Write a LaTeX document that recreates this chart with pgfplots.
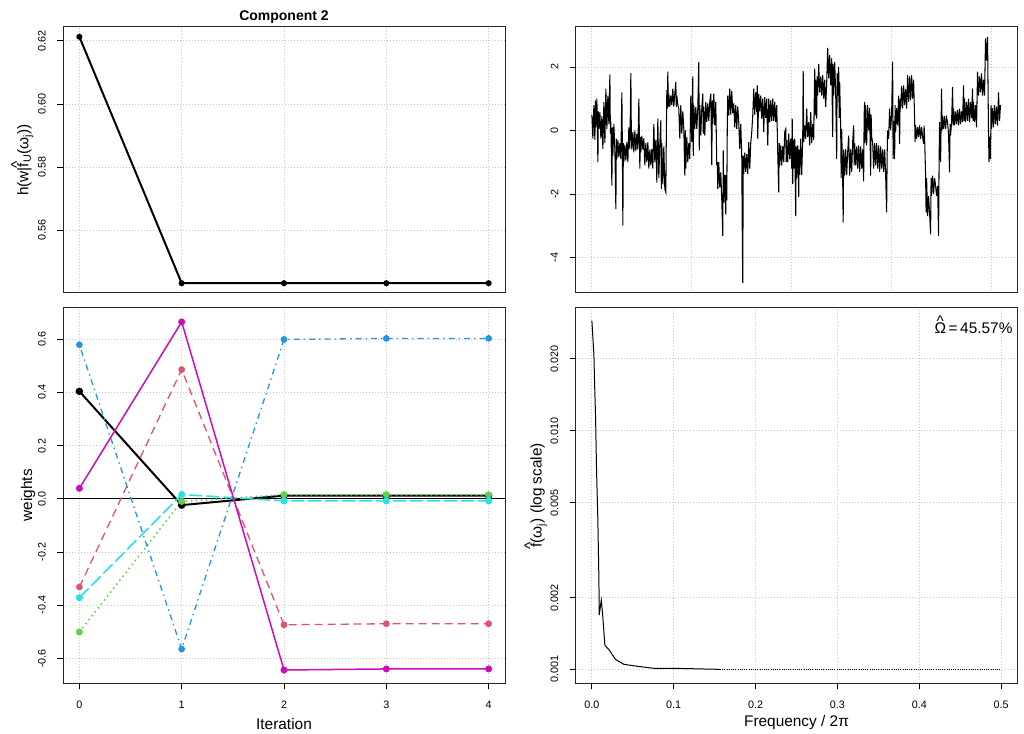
\documentclass[border=0pt]{standalone}
\usepackage{fontspec}
\setmainfont{Liberation Sans}
\usepackage{pgfplots}
\pgfplotsset{compat=1.18}
\definecolor{rred}{HTML}{DF536B}
\definecolor{rgreen}{HTML}{61D04F}
\definecolor{rblue}{HTML}{2297E6}
\definecolor{rcyan}{HTML}{28E2E5}
\definecolor{rmag}{HTML}{CD0BBC}
\newcommand{\rhat}[2][6.5pt]{\setbox0\hbox{#2}\leavevmode\rlap{\hbox to \wd0{\hss\raisebox{#1}{\char"005E}\hss}}\box0}
\begin{document}
\begin{tikzpicture}
\path[use as bounding box] (0pt,0pt) rectangle (1024pt,733pt);
\pgfplotsset{
 rbase/.style={
   scale only axis, anchor=south west, width=442pt,
   axis line style={line width=1pt, black!85},
   tick align=outside, tick pos=left,
   major tick length=6pt,
   every tick/.style={black, line width=0.8pt},
   grid=major,
   major grid style={gray!45, line width=0.8pt, dash pattern=on 1pt off 2pt},
   tick label style={font=\fontsize{10.8}{12}\selectfont},
   yticklabel style={anchor=center, xshift=-15pt, rotate=90},
   xticklabel style={anchor=center, yshift=-15.7pt},
   label style={font=\fontsize{15.4}{18}\selectfont},
 }
}
% ---------- top left ----------
\begin{axis}[rbase, at={(63pt,440pt)}, height=266pt,
  xmin=-0.16, xmax=4.16, ymin=0.5401, ymax=0.6244,
  xtick={0,1,2,3,4}, xmajorticks=false,
  ytick={0.56,0.58,0.60,0.62}, yticklabels={0.56,0.58,0.60,0.62},
  title={Component 2},
  title style={at={(axis description cs:0.5,1)}, anchor=base, yshift=0pt, font=\bfseries\fontsize{14}{16}\selectfont},
  ylabel={h(w|\rhat{f}\textsubscript{U}(ω\textsubscript{j}))},
  ylabel style={at={(axis description cs:-0.092,0.5)}, anchor=center}]
\addplot[black, line width=2pt, mark=*, mark size=2pt] coordinates {(0,0.6213)(1,0.5432)(2,0.5432)(3,0.5432)(4,0.5432)};
\end{axis}
% ---------- top right ----------
\begin{axis}[rbase, at={(575.5pt,440pt)}, height=266pt,
  xmin=-16.4, xmax=426, ymin=-5.12, ymax=3.26,
  xtick={0,100,200,300,400}, xmajorticks=false,
  ytick={-4,-2,0,2}, yticklabels={-4,-2,0,2}]
\addplot[black, line width=1.05pt] coordinates {
(0,0.50)(1,-0.26)(2,0.80)(3,-0.30)(3.5,0.95)(4,0.10)(5,1.00)(6,-1.00)(6.5,0.60)(7,0.05)(8,0.58)(9,-0.26)
(10,0.45)(11,-0.58)(12,0.90)(13,-0.40)(14,1.32)(15,0.05)(16,1.10)(17,0.20)(18,1.77)(18.5,-0.10)(19,0.26)
(20,-1.74)(20.5,0.10)(21,-0.80)(22,0.20)(23,-0.60)(24,-2.48)(24.5,-0.26)(25,-0.90)(26,-0.30)(27,-0.85)(28,-0.40)(29,-0.90)
(30,1.20)(30.5,-0.50)(31,-3.00)(31.5,-0.40)(32,-1.00)(33,-0.45)(34,-0.95)(35,-0.37)(36,-1.00)(37,0.10)(38,-0.58)(39,1.81)(39.5,-0.20)
(40,-0.60)(41,-0.05)(42,-0.69)(43,0.00)(44,-0.65)(45,-0.10)(46,-0.60)(47,1.00)(48,-1.20)(48.5,-0.20)(49,-0.69)
(50,-0.16)(51,-0.60)(52,-0.25)(53,-1.10)(54,-0.40)(55,-1.00)(56,-0.37)(57,-1.20)(58,-0.60)(59,-1.10)
(60,-0.58)(61,-1.20)(62,0.20)(63,-1.00)(64,-0.30)(65,-1.64)(66,0.37)(67,-1.50)(68,-0.40)(69,0.32)(69.5,-1.85)
(70,-0.40)(71,-1.70)(72,-0.50)(73,-1.85)(74,-1.95)(74.5,-0.16)(75,1.27)(75.5,0.69)(76,1.85)(76.5,0.75)(77,1.16)(78,0.74)(79,1.10)
(80,0.80)(81,1.32)(82,0.75)(83,1.16)(84,1.53)(84.5,0.74)(85,1.10)(86,0.80)(87,0.69)(88,-0.26)(89,0.80)
(90,-0.10)(91,0.60)(92,0.05)(93,-1.42)(93.5,0.00)(94,-1.20)(95,-0.20)(96,-1.00)(97,-0.40)(98,-0.90)(99,1.10)
(100,-0.37)(101,1.70)(101.5,-0.80)(102,0.80)(103,0.05)(104,0.74)(105,0.05)(106,0.70)(107,2.16)(107.5,-0.63)(108,0.80)(109,-0.16)
(110,0.70)(111,1.16)(111.5,-0.10)(112,0.75)(113,-0.16)(114,0.90)(115,0.26)(116,0.85)(117,0.30)(118,0.90)(119,1.16)
(120,-1.10)(120.5,0.95)(121,0.20)(122,1.16)(123,0.16)(124,0.90)(125,-1.10)(125.5,-1.00)(126,-1.85)(127,-1.00)(128,-1.80)(129,-1.32)
(130,-2.20)(131,-3.32)(131.5,-0.63)(132,-2.27)(133,-1.40)(134,-2.64)(134.5,-1.40)(135,-2.20)(135.5,0.05)(136,1.10)(137,0.47)(138,1.32)(139,0.50)
(140,1.25)(141,0.55)(142,0.85)(143,0.10)(144,0.80)(145,0.05)(146,0.75)(147,0.26)(148,-0.58)(149,0.20)
(150,-0.80)(150.5,-3.10)(151,-4.80)(151.5,-0.80)(152,-1.37)(153,-0.70)(154,-1.30)(155,-0.75)(156,-1.37)(157,-0.37)(158,-1.20)(159,-0.40)
(160,-0.05)(161,0.47)(162,1.32)(163,0.50)(164,1.20)(165,0.58)(165.5,1.42)(166,-0.26)(167,1.15)(168,0.60)(169,1.10)
(170,0.37)(171,1.00)(172,-0.05)(173,1.05)(174,0.40)(175,1.00)(176,-0.47)(177,1.00)(178,0.26)(179,0.95)
(180,0.30)(181,1.00)(182,0.30)(183,0.90)(184,0.26)(185,0.80)(186,-0.70)(187,-1.95)(187.5,-0.40)(188,-1.10)(189,-0.47)
(190,-1.10)(191,-0.50)(192,-1.00)(193,-0.05)(194,0.05)(194.5,-1.00)(195,-0.30)(196,-1.00)(197,-0.10)(198,-0.90)(199,-0.26)
(200,-1.20)(200.5,0.37)(201,-1.69)(201.5,-0.30)(202,-1.20)(203,-0.26)(204,-2.70)(204.5,-0.50)(205,-1.50)(206,-0.47)(207,-2.10)(207.5,-0.60)(208,-1.40)(209,-0.26)
(210,-1.40)(211,-0.30)(211.5,1.87)(212,-0.37)(213,0.16)(214,-0.26)(215,0.69)(216,-0.20)(217,0.26)(218,-0.47)(219,0.58)
(220,-0.40)(221,0.20)(222,-0.30)(223,1.95)(223.5,0.47)(224,1.60)(225,0.37)(225.5,1.70)(226,1.10)(227,2.10)(228,1.20)(229,1.70)
(230,1.10)(231,1.74)(232,1.00)(233,1.60)(234,0.74)(235,1.50)(236,2.60)(237,1.64)(238,2.37)(239,1.42)
(240,2.27)(241,-0.20)(241.5,2.10)(242,1.10)(243,2.16)(244,1.20)(245,-0.90)(245.5,1.80)(246,1.10)(247,2.00)(247.5,0.40)(248,1.53)(249,0.05)(249.5,-1.50)
(250,0.05)(250.5,-0.70)(251,-1.50)(251.5,-2.90)(252,-0.60)(253,-1.42)(254,-0.58)(255,-1.40)(256,-0.70)(257,-0.16)(258,-1.42)(259,-0.60)
(260,-1.30)(261,-0.37)(262,0.16)(262.5,-1.10)(263,-0.40)(264,-1.10)(265,-0.50)(266,-1.20)(267,-0.47)(268,-1.30)(269,-0.50)
(270,-1.20)(271,-0.60)(272,-1.60)(272.5,0.50)(273,0.90)(273.5,-0.40)(274,0.80)(275,-0.47)(276,0.80)(277,0.00)(278,0.70)(279,-1.42)(279.5,0.50)
(280,-0.20)(281,-0.37)(282,-1.20)(283,-0.40)(284,-1.10)(285,-0.40)(286,-1.20)(287,-0.47)(288,-1.30)(289,-0.50)
(290,-1.20)(291,-0.60)(292,-1.30)(293,-0.60)(294,-1.40)(295,-2.58)(295.5,-0.80)(296,0.00)(297,-0.26)(298,0.69)(299,0.00)
(300,0.50)(301,2.16)(301.5,-0.90)(302,0.30)(303,-0.90)(303.5,0.80)(304,-0.05)(305,0.70)(306,0.16)(307,1.10)(308,-0.42)(308.5,1.00)(309,0.69)
(310,1.40)(311,0.70)(312,1.42)(313,0.80)(314,1.30)(315,0.69)(316,1.74)(317,0.90)(318,1.70)(319,0.95)
(320,1.74)(321,1.00)(322,1.60)(323,0.37)(323.5,-0.37)(324,0.16)(325,-0.26)(326,0.10)(327,-0.20)(328,0.16)(329,-0.26)
(330,0.10)(331,-0.20)(332,-0.42)(332.5,0.15)(333,-0.20)(334,-1.42)(334.5,-2.58)(335,-1.50)(336,-2.70)(337,-2.06)(338,-2.60)(339,-3.27)(339.5,-1.50)
(340,-2.06)(341,-1.42)(342,-2.00)(343,-1.50)(344,-1.74)(345,-2.06)(346,-1.75)(347,-3.32)(347.5,-1.00)(348,0.26)(349,-1.00)
(350,1.32)(350.5,0.00)(351,0.47)(352,0.05)(353,0.45)(354,0.05)(355,0.40)(356,0.26)(357,-0.16)(358,-1.32)(358.5,0.20)(359,-0.16)
(360,0.26)(361,1.37)(361.5,0.16)(362,0.69)(363,0.16)(364,0.60)(365,0.20)(366,0.65)(367,0.16)(368,0.69)(369,0.20)
(370,0.60)(371,0.26)(372,1.42)(372.5,0.30)(373,1.00)(374,0.26)(375,0.90)(376,0.30)(377,1.00)(378,0.26)(379,0.90)
(380,0.40)(381,1.32)(381.5,0.30)(382,0.90)(383,0.26)(384,0.80)(385,0.10)(386,1.85)(387,1.10)(388,1.70)(389,1.20)
(390,1.80)(391,1.10)(392,1.60)(393,1.10)(394,2.90)(395,2.20)(396,2.95)(397,-0.16)(397.5,-1.00)(398,-0.20)(399,-0.90)(399.5,0.80)
(400,0.05)(401,0.70)(402,0.10)(403,0.80)(404,0.20)(405,0.75)(406,0.15)(407,1.20)(408,0.30)(409,0.80)
};
\end{axis}
% ---------- bottom left ----------
\begin{axis}[rbase, at={(63pt,49.7pt)}, height=376pt,
  xmin=-0.16, xmax=4.16, ymin=-0.694, ymax=0.72,
  xtick={0,1,2,3,4}, xticklabels={0,1,2,3,4},
  ytick={-0.6,-0.4,-0.2,0,0.2,0.4,0.6},
  yticklabels={-0.6,-0.4,-0.2,0.0,0.2,0.4,0.6},
  xlabel={Iteration}, ylabel={weights},
  xlabel style={at={(axis description cs:0.5,-0.1085)}, anchor=center},
  ylabel style={at={(axis description cs:-0.079,0.5)}, anchor=center}]
\addplot[black, line width=0.8pt] coordinates {(-0.16,0)(4.16,0)};
\addplot[black, line width=2pt, mark=*, mark size=2.7pt] coordinates {(0,0.404)(1,-0.024)(2,0.012)(3,0.012)(4,0.012)};
\addplot[rred, line width=1.3pt, dash pattern=on 8pt off 5pt, mark=*, mark size=2.7pt, mark options={solid}] coordinates {(0,-0.332)(1,0.486)(2,-0.474)(3,-0.470)(4,-0.470)};
\addplot[rgreen, line width=1.6pt, dash pattern=on 1.5pt off 3.5pt, mark=*, mark size=2.7pt, mark options={solid}] coordinates {(0,-0.501)(1,-0.010)(2,0.015)(3,0.015)(4,0.015)};
\addplot[rblue, line width=1.3pt, dash pattern=on 1.5pt off 4pt on 6pt off 4pt, mark=*, mark size=2.7pt, mark options={solid}] coordinates {(0,0.579)(1,-0.565)(2,0.599)(3,0.603)(4,0.603)};
\addplot[rcyan, line width=1.6pt, dash pattern=on 13pt off 4pt, mark=*, mark size=2.7pt, mark options={solid}] coordinates {(0,-0.372)(1,0.016)(2,-0.008)(3,-0.008)(4,-0.008)};
\addplot[rmag, line width=1.5pt, mark=*, mark size=2.7pt] coordinates {(0,0.039)(1,0.665)(2,-0.644)(3,-0.640)(4,-0.640)};
\end{axis}
% ---------- bottom right ----------
\begin{axis}[rbase, at={(575.5pt,49.7pt)}, height=376pt,
  xmin=-0.02, xmax=0.52, ymode=log, ymin=0.000874, ymax=0.03289,
  xtick={0,0.1,0.2,0.3,0.4,0.5}, xticklabels={0.0,0.1,0.2,0.3,0.4,0.5},
  ytick={0.001,0.002,0.005,0.01,0.02}, yticklabels={0.001,0.002,0.005,0.010,0.020},
  yminorticks=false, yminorgrids=false,
  xlabel={Frequency / 2π}, ylabel={\rhat{f}(ω\textsubscript{j}) (log scale)},
  xlabel style={at={(axis description cs:0.5,-0.1037)}, anchor=center},
  ylabel style={at={(axis description cs:-0.09,0.5)}, anchor=center}]
\addplot[black, line width=1pt] coordinates {
(0,0.02891)(0.0025,0.02075)(0.0033,0.01581)(0.0045,0.01146)(0.0057,0.00685)(0.0073,0.00422)
(0.0086,0.00237)(0.0090,0.00169)(0.0115,0.00195)(0.0130,0.00172)(0.0159,0.00126)(0.0208,0.00121)
(0.0289,0.00110)(0.0391,0.00105)(0.0554,0.00103)(0.0758,0.00101)(0.1003,0.00101)(0.1565,0.00100)};
\addplot[black, line width=1pt, dash pattern=on 1pt off 1.2pt] coordinates {(0.1565,0.00100)(0.5,0.00100)};
\node[anchor=base east, font=\fontsize{15.4}{18}\selectfont] at (axis description cs:0.9966,0.931) {\rhat[7pt]{Ω}\,=\,45.57\%};
\end{axis}
\end{tikzpicture}
\end{document}
